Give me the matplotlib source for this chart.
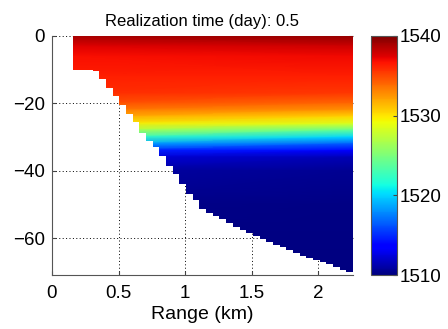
import numpy as np
import matplotlib
matplotlib.use('Agg')
import matplotlib.pyplot as plt
from matplotlib.patches import Polygon

plt.rcParams['font.family'] = ['Liberation Sans', 'DejaVu Sans']

# Grille en distance (km) : bords des colonnes
r_debut = 0.155
r_fin = 2.26
n_col = 42

# Profondeur du fond (m) pour chaque colonne
fond = [10, 10, 10, 10.5, 12.8, 15.5, 17.7, 20.5, 23.2, 25.4,
        28.7, 31.1, 33.0, 35.5, 38.5, 41.0, 44.0, 47.0, 48.7, 51.5,
        52.6, 53.6, 54.4, 55.4, 56.6, 57.6, 58.5, 59.3, 60.3, 61.3,
        62.0, 62.8, 63.5, 64.5, 65.2, 65.8, 66.5, 67.0, 67.8, 68.5,
        69.5, 70.2]

# Profils de célérité (m/s) aux deux extrémités en distance
prof = [0, 3, 6, 12, 17, 20, 22, 24, 26, 28, 30, 32, 34, 36, 40, 50, 71]
c_gauche = [1539.0, 1537.5, 1536.8, 1536.3, 1535.8, 1534.8, 1533.5, 1532.0,
            1530.0, 1527.0, 1523.0, 1519.0, 1515.0, 1512.5, 1511.0, 1510.3, 1510.0]
c_droite = [1539.5, 1538.0, 1537.0, 1536.3, 1535.5, 1534.0, 1532.5, 1530.5,
            1528.5, 1524.0, 1520.0, 1516.5, 1513.5, 1511.5, 1510.5, 1510.2, 1510.0]

titre = 'Realization time (day): 0.5'

fig = plt.figure(figsize=(4.48, 3.29), dpi=100)
ax = fig.add_axes([0.116, 0.164, 0.672, 0.7266])
cax = fig.add_axes([0.828, 0.164, 0.058, 0.7266])

# Champ de célérité
X = np.array([[r_debut, r_fin]] * len(prof))
Y = -np.array([[p, p] for p in prof])
C = np.column_stack([c_gauche, c_droite])
mesh = ax.pcolormesh(X, Y, C, shading='gouraud', cmap='jet', vmin=1510, vmax=1540,
                     zorder=2)

# Découpage selon le fond (en marches)
bords = np.linspace(r_debut, r_fin, n_col + 1)
bas = []
for i, d in enumerate(fond):
    bas.append((bords[i], -d))
    bas.append((bords[i + 1], -d))
poly = [(r_debut, 0), (r_fin, 0)] + bas[::-1]
clip = Polygon(poly, closed=True, transform=ax.transData, facecolor='none',
               edgecolor='none')
mesh.set_clip_path(clip)

ax.set_xlim(0, 2.26)
ax.set_ylim(-71, 0)
ax.set_xticks([0, 0.5, 1, 1.5, 2])
ax.set_xticklabels(['0', '0.5', '1', '1.5', '2'])
ax.set_yticks([-60, -40, -20, 0])
ax.grid(True, linestyle=(0, (1, 2.5)), color='k', linewidth=0.7)
ax.set_axisbelow(True)
ax.tick_params(direction='in', length=3, labelsize=13.5, right=True, top=False,
               color='#444444')
ax.tick_params(axis='x', pad=7)
ax.tick_params(axis='y', pad=5)
for s in ['top', 'right']:
    ax.spines[s].set_visible(False)
for s in ['left', 'bottom']:
    ax.spines[s].set_color('#555555')
ax.set_xlabel('Range (km)', fontsize=14, labelpad=3)
ax.set_title(titre, fontsize=12, pad=7)

cb = fig.colorbar(mesh, cax=cax)
cb.set_ticks([1510, 1520, 1530, 1540])
cb.ax.tick_params(direction='in', length=3, labelsize=13.5, color='#444444', pad=2)
cb.outline.set_edgecolor('#555555')

fig.savefig('out.png', dpi=100)
